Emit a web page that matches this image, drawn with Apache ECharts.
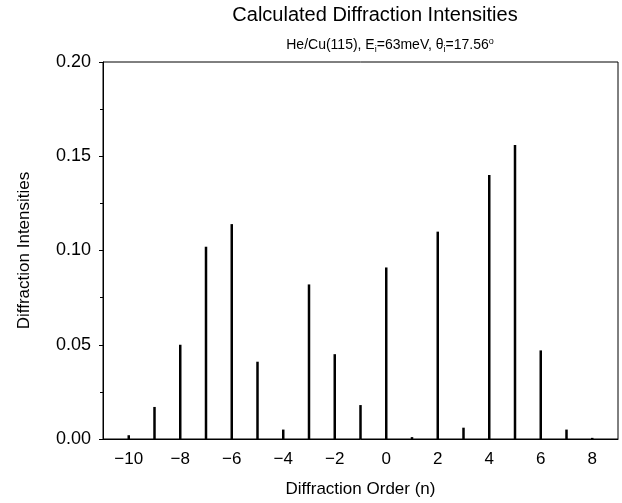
<!DOCTYPE html>
<html>
<head>
<meta charset="utf-8">
<script src="https://cdn.jsdelivr.net/npm/echarts@6/dist/echarts.min.js"></script>
<style>
html, body { margin: 0; padding: 0; background: #fff; }
#main { width: 622px; height: 503px; }
</style>
</head>
<body>
<div id="main"></div>
<script>
var orders = [-10, -9, -8, -7, -6, -5, -4, -3, -2, -1, 0, 1, 2, 3, 4, 5, 6, 7, 8];
var intensities = [0.002, 0.017, 0.050, 0.102, 0.114, 0.041, 0.005, 0.082, 0.045, 0.018,
                   0.091, 0.001, 0.110, 0.006, 0.140, 0.156, 0.047, 0.005, 0.0006];
var xTicks = [-10, -8, -6, -4, -2, 0, 2, 4, 6, 8];
var yTicks = [0, 0.05, 0.10, 0.15, 0.20];

var font = 'Liberation Sans, Arial, Helvetica, sans-serif';

var barData = [];
for (var i = 0; i < orders.length; i++) {
    barData.push([orders[i], intensities[i]]);
}

var myChart = echarts.init(document.getElementById('main'));
var option = {
    animation: false,
    title: [
        {
            text: 'Calculated Diffraction Intensities',
            left: 370, top: 0, textAlign: 'center',
            textStyle: { fontFamily: font, fontWeight: 'normal', fontSize: 20, color: '#000' }
        },
        {
            text: '{n|He/Cu(115), E}{s|i}{n|=63meV, θ}{s|i}{n|=17.56}{p|o}',
            left: 385, top: 32, textAlign: 'center',
            textStyle: {
                fontFamily: font, fontSize: 14, fontWeight: 'normal', color: '#000',
                rich: {
                    n: { fontFamily: font, fontSize: 14, fontWeight: 'normal', color: '#000', lineHeight: 17, verticalAlign: 'middle' },
                    s: { fontFamily: font, fontSize: 9, fontWeight: 'normal', color: '#000', lineHeight: 17, verticalAlign: 'bottom' },
                    p: { fontFamily: font, fontSize: 9, fontWeight: 'normal', color: '#000', lineHeight: 17, verticalAlign: 'top' }
                }
            }
        }
    ],
    grid: {
        left: 103, right: 4, top: 62, bottom: 59,
        show: true, borderColor: '#000', borderWidth: 1, backgroundColor: 'transparent'
    },
    xAxis: {
        type: 'value', min: -11, max: 9, interval: 1,
        name: 'Diffraction Order (n)', nameLocation: 'middle', nameGap: 42,
        nameTextStyle: { fontFamily: font, fontSize: 17, color: '#000' },
        axisLine: { show: true, onZero: false, lineStyle: { color: '#000', width: 1 } },
        axisTick: { show: false },
        splitLine: { show: false },
        axisLabel: {
            fontFamily: font, fontSize: 17, color: '#000', margin: 12,
            showMinLabel: false, showMaxLabel: false,
            formatter: function (v) {
                if (xTicks.indexOf(v) < 0) return '';
                return String(v).replace('-', '\u2212');
            }
        }
    },
    yAxis: {
        type: 'value', min: yTicks[0], max: yTicks[yTicks.length - 1], interval: 0.05,
        name: 'Diffraction Intensities', nameLocation: 'middle', nameGap: 70,
        nameTextStyle: { fontFamily: font, fontSize: 17, color: '#000' },
        axisLine: { show: true, onZero: false, lineStyle: { color: '#000', width: 1 } },
        axisTick: { show: true, inside: false, length: 4, lineStyle: { color: '#000' } },
        minorTick: { show: true, splitNumber: 2, length: 3, lineStyle: { color: '#000' } },
        splitLine: { show: false },
        axisLabel: {
            fontFamily: font, fontSize: 18, color: '#000', margin: 12,
            formatter: function (v) { return v.toFixed(2); }
        }
    },
    series: [
        {
            type: 'bar',
            data: barData,
            barWidth: 2.5,
            itemStyle: { color: '#000' }
        }
    ]
};
myChart.setOption(option);
</script>
</body>
</html>
